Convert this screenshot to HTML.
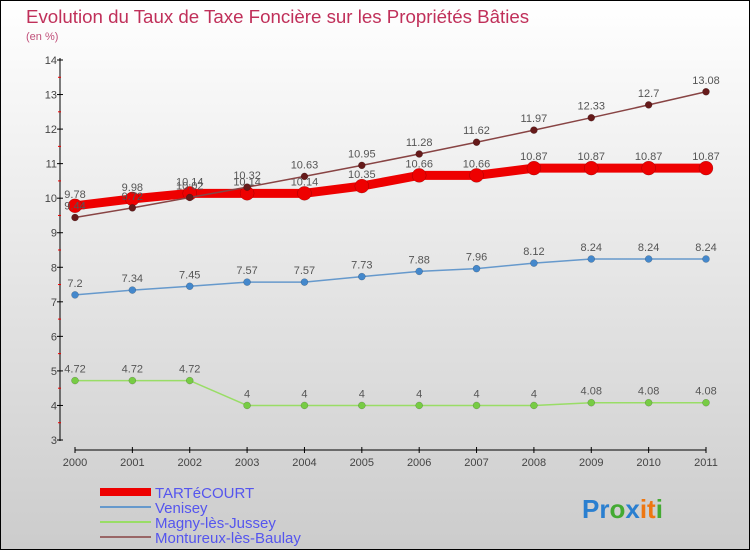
<!DOCTYPE html>
<html><head><meta charset="utf-8"><style>
body{margin:0}
svg{display:block;font-family:"Liberation Sans",sans-serif}
</style></head><body>
<svg width="750" height="550">
<defs><linearGradient id="bg" x1="0" y1="0" x2="0" y2="1"><stop offset="0" stop-color="#ffffff"/><stop offset="1" stop-color="#cccccc"/></linearGradient></defs>
<rect x="0.5" y="0.5" width="749" height="549" fill="url(#bg)" stroke="#000"/>
<text x="26" y="23" font-size="18.7" fill="#c0305a">Evolution du Taux de Taxe Foncière sur les Propriétés Bâties</text>
<text x="26" y="40" font-size="11" fill="#c0507a">(en %)</text>
<g id="axes"></g>
<g id="series"></g>
<g>
<rect x="100" y="488" width="51" height="8" fill="#ee0000"/>
<text x="155" y="498" font-size="15" fill="#5555ee">TARTéCOURT</text>
<line x1="100" x2="151" y1="507" y2="507" stroke="#6699cc" stroke-width="2"/>
<text x="155" y="513" font-size="15" fill="#5555ee">Venisey</text>
<line x1="100" x2="151" y1="522" y2="522" stroke="#99dd66" stroke-width="2"/>
<text x="155" y="528" font-size="15" fill="#5555ee">Magny-lès-Jussey</text>
<line x1="100" x2="151" y1="537" y2="537" stroke="#996666" stroke-width="2"/>
<text x="155" y="543" font-size="15" fill="#5555ee">Montureux-lès-Baulay</text>
</g>
<text x="582" y="518" font-size="26" font-weight="bold"><tspan fill="#2a7fd0">Pr</tspan><tspan fill="#44aa33">o</tspan><tspan fill="#2a7fd0">x</tspan><tspan fill="#ee7711">it</tspan><tspan fill="#44aa33">i</tspan></text>
</svg>
<script>
const years=[2000,2001,2002,2003,2004,2005,2006,2007,2008,2009,2010,2011];
const yTicks=[3,4,5,6,7,8,9,10,11,12,13,14];
const tarte=[9.78,9.98,10.14,10.14,10.14,10.35,10.66,10.66,10.87,10.87,10.87,10.87];
const venisey=[7.2,7.34,7.45,7.57,7.57,7.73,7.88,7.96,8.12,8.24,8.24,8.24];
const magny=[4.72,4.72,4.72,4,4,4,4,4,4,4.08,4.08,4.08];
const montureux=[9.44,9.72,10.02,10.32,10.63,10.95,11.28,11.62,11.97,12.33,12.7,13.08];
const NS='http://www.w3.org/2000/svg';
const xs=i=>75+i*(706-75)/(years.length-1);
const ys=v=>440-(v-3)*(380/11);
function mk(tag,attrs,parent){const e=document.createElementNS(NS,tag);for(const k in attrs)e.setAttribute(k,attrs[k]);parent.appendChild(e);return e;}
const ax=document.getElementById('axes');
let l=mk('line',{x1:60,x2:60,y1:58,y2:441,stroke:'#000'},ax);


l=mk('line',{x1:75,x2:706,y1:450,y2:450,stroke:'#000'},ax);


yTicks.forEach(v=>{
 mk('line',{x1:57,x2:63,y1:ys(v),y2:ys(v),stroke:'#000'},ax);
 if(v<14) mk('line',{x1:58,x2:61,y1:ys(v+0.5),y2:ys(v+0.5),stroke:'#e00'},ax);
 const t=mk('text',{x:57,y:ys(v)+4,'font-size':11,fill:'#444','text-anchor':'end'},ax);t.textContent=v;
 
 
});
years.forEach((y,i)=>{
 mk('line',{x1:xs(i),x2:xs(i),y1:447,y2:453,stroke:'#000'},ax);
 const t=mk('text',{x:xs(i),y:466,'font-size':11,fill:'#444','text-anchor':'middle'},ax);t.textContent=y;
 
 
});
const sg=document.getElementById('series');
function series(vals,color,dot,w,r,name){
 const g=mk('g',{},sg);
 
 
 mk('polyline',{points:vals.map((v,i)=>xs(i)+','+ys(v)).join(' '),fill:'none',stroke:color,'stroke-width':w,'stroke-linejoin':'round'},g);
 vals.forEach((v,i)=>{
  const c=mk('circle',{cx:xs(i),cy:ys(v),r:r,fill:dot,stroke:'rgba(0,0,0,0.3)','stroke-width':0.5},g);
  
  
  const t=mk('text',{x:xs(i),y:ys(v)-8,'font-size':11,fill:'#555','text-anchor':'middle'},g);t.textContent=v;
  
  
 });
}
series(magny,'#99dd66','#77cc44',1.5,3.5,'series-magny');
series(venisey,'#6699cc','#4488cc',1.5,3.5,'series-venisey');
series(tarte,'#ee0000','#ee0000',9,7,'series-tartecourt');
series(montureux,'#884444','#661a1a',1.5,3.5,'series-montureux');
</script>
</body></html>
